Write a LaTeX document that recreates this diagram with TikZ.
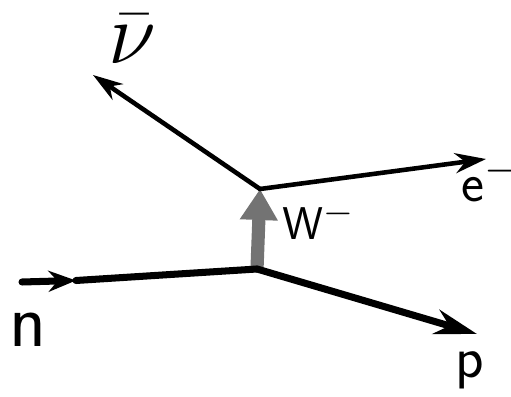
\documentclass[tikz,border=0pt]{standalone}
\usepackage{amsmath,amssymb}
\usepackage{tikz}
\usetikzlibrary{arrows.meta, positioning, calc}

\begin{document}
\begin{tikzpicture}[
    fermion/.style={line width=4pt, line cap=round, line join=round},
    lepton/.style={line width=2.6pt, line cap=round, line join=round},
    boson/.style={black!55, line width=7.5pt,
        -{Triangle[length=0.62cm, width=0.72cm]}},
    lbl/.style={inner sep=0pt, font=\Huge},
]
    \useasboundingbox (0,0) rectangle (10.22,7.94);

    % Vertices
    \coordinate (lowv) at (5.14,2.56);
    \coordinate (upv)  at (5.2,4.16);

    % Free ends of the lines
    \coordinate (nstart) at (0.44,2.3);
    \coordinate (nhead)  at (1.52,2.33);
    \coordinate (pend)   at (9.54,1.26);
    \coordinate (eend)   at (9.72,4.76);
    \coordinate (nuend)  at (1.86,6.44);

    % W- exchange (grey block arrow)
    \draw[boson] (lowv) -- (upv);

    % Hadron lines
    \draw[fermion, -{Stealth[length=0.55cm, width=0.42cm]}] (nstart) -- (nhead);
    \draw[fermion] (nhead) -- (lowv);
    \draw[fermion, -{Stealth[length=0.85cm, width=0.5cm]}] (lowv) -- (pend);

    % Lepton lines
    \draw[lepton, -{Stealth[length=0.62cm, width=0.4cm]}] (upv) -- (eend);
    \draw[lepton, -{Stealth[length=0.6cm, width=0.38cm]}] (upv) -- (nuend);

    % Labels
    \node[lbl, anchor=base, scale=1.75] (n) at (0.56,1.0) {$\mathsf{n}$};
    \node[lbl, anchor=base, scale=1.35] (p) at (9.4,0.38) {$\mathsf{p}$};
    \node[lbl, anchor=base west, scale=1.25] (e) at (9.22,3.9) {$\mathsf{e}^-$};
    \node[lbl, anchor=base west, scale=1.05] (w) at (5.64,3.14) {$\mathsf{W}^-$};
    \node[lbl, anchor=base, scale=2] (nu) at (2.64,6.66) {$\bar{\nu}$};
\end{tikzpicture}
\end{document}
